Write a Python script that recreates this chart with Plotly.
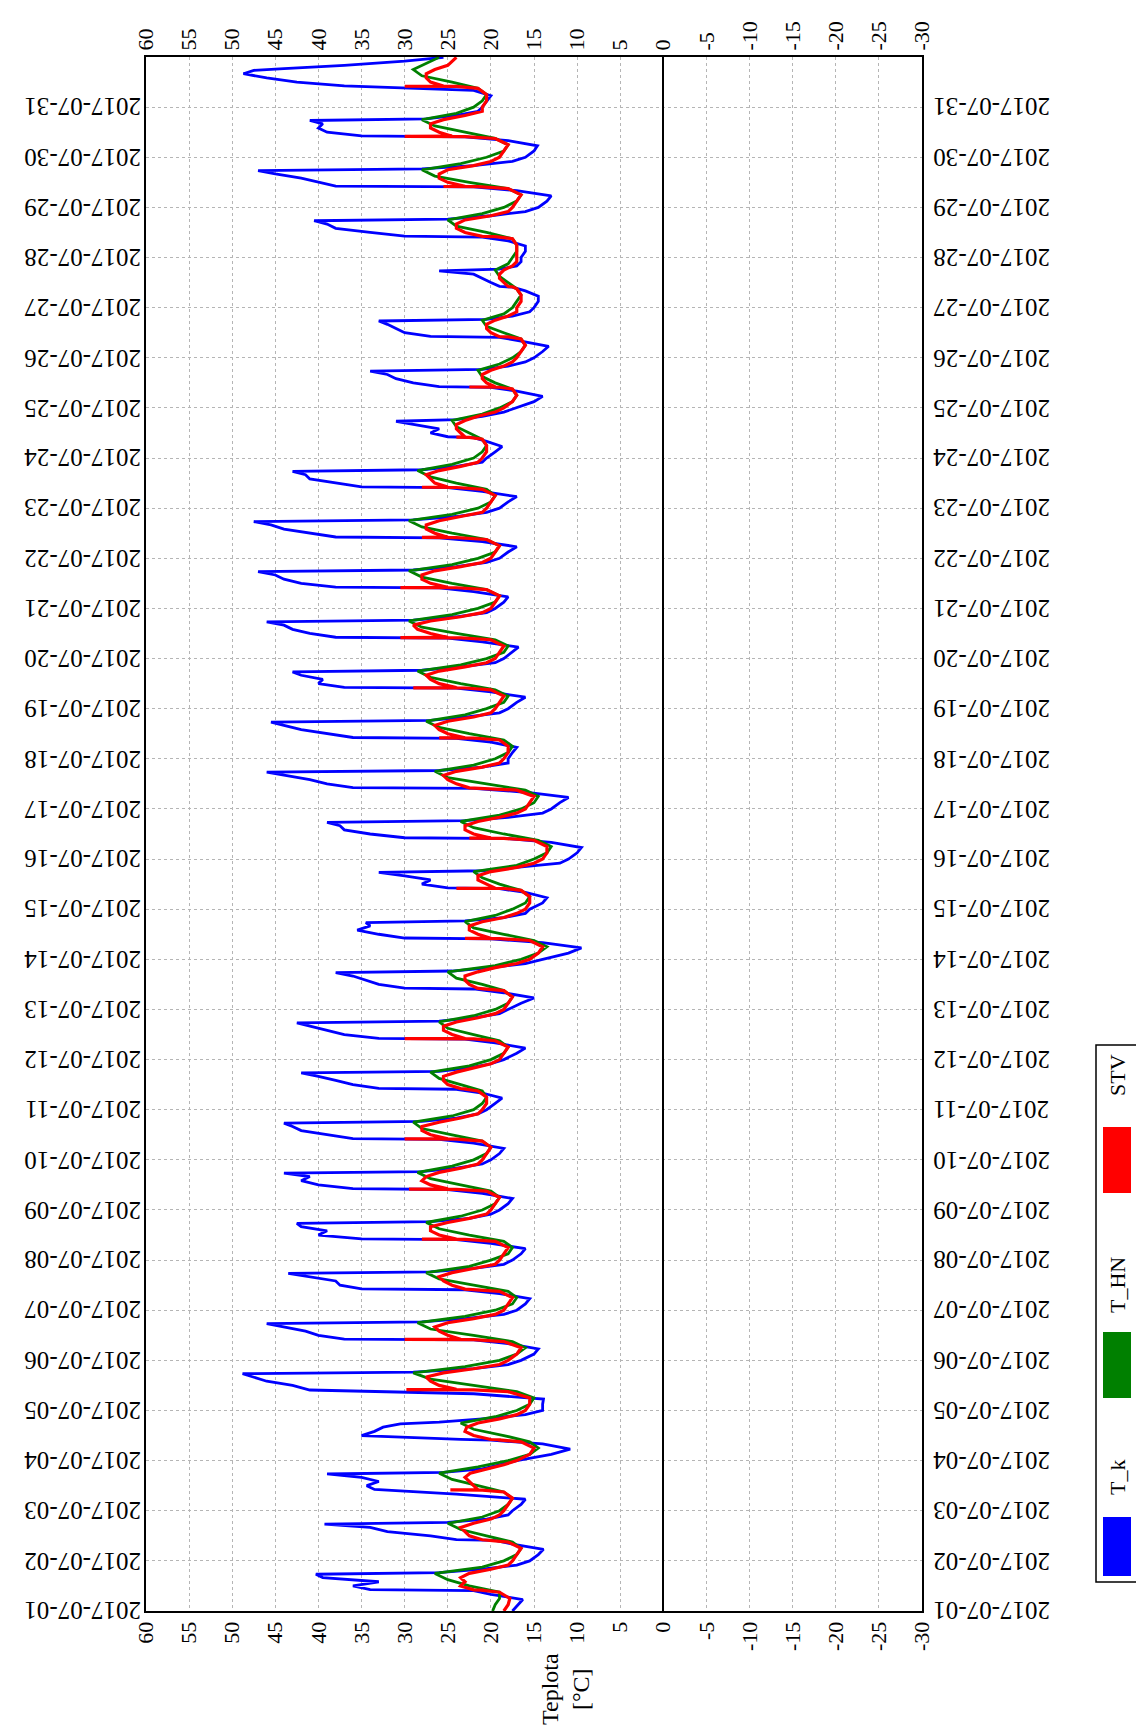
import plotly.graph_objects as go
import pandas as pd

START = pd.Timestamp("2017-07-01")
END = pd.Timestamp("2017-08-01")

# ---- T_k (blue) : values per day at fixed hours ----
TK_HOURS = [0, 3, 5.5, 8, 9.8, 10.2, 12, 14, 16, 17.6, 18.4, 20, 22]
TK_DAILY = [
    [17.5, 16.8, 16.3, 20, 22, 34, 36, 33, 39.5, 40.3, 26, 21, 17],
    [15.5, 14.5, 13.9, 17.5, 19.5, 24, 27, 32, 34, 39.3, 25, 20.5, 18],
    [17.5, 16.5, 16, 24, 32.5, 33.5, 34.4, 33, 35, 39, 25.5, 21, 19],
    [17, 13, 10.8, 14, 20, 23.5, 35, 33.5, 32.5, 30.5, 26, 21, 16],
    [14, 14, 13.9, 22, 41, 41.4, 43, 46, 47.5, 48.8, 29, 22, 18],
    [16.5, 15, 14.5, 18, 22, 37, 40, 41.5, 44, 46, 28, 23, 18.5],
    [17, 16, 15.5, 19, 23, 35, 37.5, 38, 41, 43.5, 27, 22, 18.5],
    [17.5, 16.5, 16, 20, 24, 35, 40, 39, 42, 42.5, 27, 22.5, 20],
    [19, 18, 17.5, 21, 25, 36, 40, 42, 41, 44, 28, 24, 21],
    [20, 19, 18.5, 22, 26, 36, 39, 42, 43, 44, 28, 24, 21.5],
    [20.5, 19.5, 18.7, 21, 24, 33, 36, 38, 40, 42, 26, 22.5, 20],
    [18.5, 17, 16, 19.5, 23, 33, 37, 39, 41, 42.5, 26, 22, 19],
    [18, 16.5, 15, 18.5, 22, 30, 33, 34.5, 36, 38, 24.5, 20, 16],
    [14, 11, 9.5, 14, 20, 30, 33, 35.5, 34, 34.5, 23, 18.5, 16],
    [15.5, 14, 13.5, 16, 19, 25, 28, 27, 30, 33, 21, 17, 12],
    [11, 10, 9.5, 13, 18, 30, 34, 37, 37.5, 39, 23, 18, 14],
    [13, 12, 11, 16, 22, 36, 39, 41, 44, 46, 26, 21, 18],
    [18, 17.5, 17, 20, 24, 36, 39, 42, 44, 45.5, 27, 23, 19],
    [18, 17, 16, 20, 24, 37, 40, 39.5, 42, 43, 28, 23.5, 19.5],
    [18.5, 17.5, 16.8, 21, 25, 38, 41, 43, 44, 46, 29, 24, 20.5],
    [19.5, 18.5, 18, 22, 26, 38, 42, 44, 45, 47, 29, 24, 20.5],
    [19, 18, 17, 21, 26, 38, 41, 44, 45.5, 47.5, 29, 24, 20.5],
    [19, 18, 17, 21, 25, 35, 38, 41, 41.5, 43, 28, 24, 21],
    [20.5, 19.5, 18.7, 20.5, 22, 25, 27, 26, 29, 31, 24, 21, 18.5],
    [17, 15, 14, 17, 20, 26, 29, 31, 32, 34, 21, 18, 16],
    [15, 14, 13.3, 16.5, 19, 27, 30, 31, 32, 33, 20.5, 17.5, 15.5],
    [15, 14.5, 14.5, 16, 17.5, 19, 20, 21, 22, 26, 19, 17, 16.5],
    [16.5, 16, 16, 18, 21, 30, 34, 38, 39, 40.5, 25, 20, 16],
    [14.5, 13.5, 13, 17, 22, 38, 40, 42, 45, 47, 28, 22, 17.5],
    [16, 15, 14.6, 18, 23, 35, 39, 40, 39.5, 41, 27.5, 24, 21.5],
    [21, 20.5, 20, 22, 36, 37, 42.5, 46, 48.7, 47.5, 44, 37, 30],
]
TK_LAST = 25.5

# ---- T_HN (green) ----
HN_HOURS = [0, 3, 6, 9, 12, 15, 18, 21]
HN_DAILY = [
    [19.8, 19.5, 19, 19, 22.5, 25, 26.5, 21],
    [18.5, 17, 16.5, 17.5, 20.5, 23.5, 25, 21],
    [19, 18, 17.5, 18.5, 21.5, 24.5, 26, 21.5],
    [18, 15.5, 14.5, 15.5, 18.5, 22, 23.5, 19.5],
    [17, 15.5, 15, 17, 22, 27, 29, 23],
    [19, 17, 16, 17.5, 22, 27, 28.5, 23],
    [19.5, 17.5, 17, 18, 22, 26, 27.5, 22.5],
    [20, 18, 17.5, 18.5, 22.5, 26, 27.5, 23.5],
    [21, 19.5, 19, 20, 23.5, 27, 28.5, 24.5],
    [22, 20.5, 20, 21, 24.5, 28, 29, 24.5],
    [22, 21, 20.5, 21, 23.5, 26, 27, 22.5],
    [20, 18.5, 18, 19, 22, 25, 26, 22],
    [19.5, 18, 17.5, 18.5, 21, 24, 25, 19.5],
    [16.5, 14.5, 13.5, 15, 18.5, 22, 23, 19.5],
    [17.5, 16, 15.5, 16.5, 19, 21, 22, 17],
    [15, 13.5, 13, 14.5, 18.5, 22, 23.5, 19],
    [16.5, 15, 14.5, 16, 20.5, 25, 26.5, 22],
    [19.5, 18, 17.5, 18.5, 22.5, 26, 27.5, 23],
    [20.5, 18.5, 18, 19.5, 23.5, 27, 28.5, 23.5],
    [20.5, 18.5, 18, 19.5, 24, 28, 29.5, 24.5],
    [21.5, 19.5, 19, 20.5, 24.5, 28, 29.5, 24.5],
    [21.5, 19.5, 19, 20.5, 24.5, 28, 29.5, 24.5],
    [21.5, 20, 19.5, 20.5, 24, 27, 28.5, 24.5],
    [22, 21, 20.5, 21, 22.5, 24, 24.5, 21],
    [19, 17.5, 17, 17.5, 19.5, 21, 21.5, 19],
    [17.5, 16.5, 16, 16.5, 18.5, 20.5, 21, 18.5],
    [17.5, 17, 16.5, 17, 18, 19, 19.5, 18],
    [17.5, 17, 17, 17.5, 20.5, 24, 25, 21],
    [18.5, 17, 16.5, 18, 22.5, 26.5, 28, 23.5],
    [20.5, 18.5, 18, 19.5, 23, 26.5, 28, 24],
    [22, 21, 20.5, 21.5, 24.5, 28, 29, 27.5],
]
HN_LAST = 26

# ---- STV (red) ----
STV_HOURS = [0, 3, 6, 9, 9.9, 10.0, 10.1, 12, 14, 16, 18, 20, 22]
STV_DAILY = [
    [18.5, 18, 17.8, 19, 21, 21, 22, 23.5, 23, 23.5, 22.5, 20, 18],
    [17.5, 17, 16.5, 18, 20, 20, 21, 22.5, 23, 23.5, 22, 20, 19],
    [18.5, 18, 17.5, 18.5, 21, 24.7, 21.5, 22, 22.5, 23, 22.4, 20.5, 18.5],
    [17, 15.5, 15, 16.5, 19, 19, 20, 22, 23, 22.8, 21.5, 19, 17],
    [16, 15.5, 15.5, 18, 22, 29.8, 24, 26, 27, 27.5, 25.5, 22, 19],
    [18, 17, 16.5, 18.5, 22, 30, 23.5, 25, 26, 26.5, 25, 22, 19.5],
    [18.5, 18, 17.5, 19, 22, 22, 23, 24.5, 25.5, 26, 24.5, 22, 19.5],
    [19, 18.5, 18, 19.5, 23, 28, 24, 26, 27, 27, 25, 22.5, 20.5],
    [20, 19.5, 19, 20.5, 24, 29.5, 25, 27, 28, 27.5, 26, 23.5, 21.5],
    [21, 20.5, 20, 21, 24, 30, 25, 27, 28, 28, 26, 23.5, 21.5],
    [21, 20.5, 20.5, 21.5, 23, 23, 23.5, 25, 25.5, 25.5, 24, 22, 20],
    [19, 18.5, 18, 19.5, 22, 30, 23, 24.5, 25.5, 25.5, 24, 21.5, 19.5],
    [18.5, 18, 17.5, 18.5, 20.5, 20.5, 21.5, 22.5, 23, 23, 21.5, 19.5, 17],
    [15.5, 14.5, 14, 15.5, 19, 23, 20, 21.5, 22.5, 22.5, 21, 18.5, 17],
    [16, 15.5, 15.5, 16.5, 18.5, 24, 19.5, 20.5, 21.5, 21.5, 20, 17, 15],
    [14, 13.5, 13.5, 15, 18.5, 22.5, 20, 22, 23, 23, 21.5, 19, 17],
    [16, 15.5, 15, 17, 21, 21, 22.5, 24, 25, 25.5, 24, 21, 19],
    [18.5, 18, 18, 19, 22, 26, 23, 25, 26, 26.5, 25, 22, 20],
    [19.5, 19, 18.5, 20, 23, 29, 24, 26, 27, 27.5, 26, 23, 20.5],
    [19.5, 19, 18.5, 20, 23.5, 30.5, 25, 27, 28.5, 29, 27, 23.5, 21],
    [20, 19.5, 19, 20.5, 24, 30.5, 25, 27, 28, 28, 26.5, 23.5, 21],
    [20, 19.5, 19, 20.5, 24, 28, 25, 26.5, 27.5, 27.5, 26, 23.5, 21],
    [20.5, 20, 19.5, 21, 24, 28, 25, 26.5, 27, 27.5, 26, 23.5, 21.5],
    [21, 20.5, 20.5, 21, 22.5, 24, 23, 23.5, 24, 24, 23, 21.5, 19.5],
    [18.5, 17.5, 17, 17.5, 19, 22.5, 19.5, 20.5, 21, 21, 20, 18.5, 17.5],
    [17, 16.5, 16, 16.5, 18, 18, 19, 20, 20.5, 20.5, 19.5, 18, 17],
    [17, 16.5, 16.5, 17, 17.5, 17.5, 18, 18.5, 19, 19, 18.5, 17.5, 17],
    [17, 17, 17, 17.5, 19.5, 19.5, 21, 23, 24, 24, 23, 20, 18],
    [17.5, 17, 16.5, 18, 21.5, 25.5, 23, 25, 26, 26, 25, 22, 20],
    [19, 18.5, 18, 19.5, 23, 30, 24.5, 26, 27, 27, 25.5, 23, 21],
    [21, 20.5, 20.5, 21.5, 24, 30, 25.5, 27, 27.5, 27.5, 26.5, 25, 24.5],
]
STV_LAST = 24

LAST_TIME = pd.Timestamp("2017-07-31 23:50")

X_TICKS = list(range(60, -35, -5))
DATE_TICKS = list(pd.date_range("2017-07-01", "2017-07-31", freq="D"))
SERIES = [("T_k", "#0000ff", 2.8), ("T_HN", "#008000", 2.8), ("STV", "#ff0000", 3.2)]


def build(hours, daily, last):
    t, v = [], []
    for d, vals in enumerate(daily):
        for h, val in zip(hours, vals):
            t.append(START + pd.Timedelta(days=d) + pd.Timedelta(hours=h))
            v.append(val)
    t.append(LAST_TIME)
    v.append(last)
    return t, v


data = {
    "T_k": build(TK_HOURS, TK_DAILY, TK_LAST),
    "T_HN": build(HN_HOURS, HN_DAILY, HN_LAST),
    "STV": build(STV_HOURS, STV_DAILY, STV_LAST),
}

# ---- layout geometry (pixels) ----
W, H = 1136, 1733
PL, PR, PT, PB = 146, 922, 57, 1611


def px(xp):
    return (xp - PL) / (PR - PL)


def py(yp):
    return (PB - yp) / (PB - PT)


FONT = "Liberation Serif"

fig = go.Figure()
for name, color, lw in SERIES:
    t, v = data[name]
    fig.add_trace(go.Scatter(x=v, y=t, mode="lines", name=name,
                             line=dict(color=color, width=lw),
                             showlegend=False))
# invisible trace for the mirrored top axis
fig.add_trace(go.Scatter(x=[0], y=[START + pd.Timedelta(days=15)], xaxis="x2",
                         mode="markers", marker=dict(opacity=0), showlegend=False,
                         hoverinfo="skip"))

xcommon = dict(range=[60, -30], tickvals=X_TICKS, ticktext=[str(v) for v in X_TICKS],
               tickangle=-90, tickfont=dict(family=FONT, size=22, color="black"),
               ticks="", showline=True, linecolor="black", linewidth=2)

fig.update_layout(
    width=W, height=H,
    margin=dict(l=PL, r=W - PR, t=PT, b=H - PB),
    paper_bgcolor="white", plot_bgcolor="white",
    xaxis=dict(**xcommon, side="bottom", showgrid=True, gridcolor="#b5b5b5",
               griddash="dot", gridwidth=1, zeroline=True, zerolinecolor="black",
               zerolinewidth=1.6, mirror=True),
    xaxis2=dict(**xcommon, side="top", overlaying="x", matches="x", showgrid=False,
                zeroline=False),
    yaxis=dict(type="date", range=[START, END], tickvals=DATE_TICKS,
               showticklabels=False, ticks="", showline=True, linecolor="black",
               linewidth=2, mirror=True, showgrid=True, gridcolor="#b5b5b5",
               griddash="dot", gridwidth=1, zeroline=False),
    showlegend=False,
)

# date labels (upside down) on both sides
for d in DATE_TICKS:
    lab = d.strftime("%Y-%m-%d")
    for xa, anchor, shift in ((0, "right", -3), (1, "left", 9)):
        fig.add_annotation(x=xa, y=d, xref="paper", yref="y", text=lab,
                           textangle=180, showarrow=False, xanchor=anchor,
                           yanchor="middle", xshift=shift,
                           font=dict(family=FONT, size=25, color="black"))

# axis title
fig.add_annotation(x=px(566), y=py(1689), xref="paper", yref="paper",
                   text="Teplota<br>[°C]", textangle=-90, showarrow=False,
                   font=dict(family=FONT, size=24, color="black"),
                   xanchor="center", yanchor="middle")

# legend drawn rotated
fig.add_shape(type="rect", xref="paper", yref="paper",
              x0=px(1096), x1=px(1160), y0=py(1582), y1=py(1045),
              line=dict(color="black", width=1.5), fillcolor="white", layer="above")
legend_items = [("STV", "#ff0000", 1075, 1127, 1193),
                ("T_HN", "#008000", 1285, 1332, 1398),
                ("T_k", "#0000ff", 1478, 1517, 1576)]
for name, color, ty, s0, s1 in legend_items:
    fig.add_shape(type="rect", xref="paper", yref="paper",
                  x0=px(1103), x1=px(1131), y0=py(s1), y1=py(s0),
                  line=dict(width=0), fillcolor=color, layer="above")
    fig.add_annotation(x=px(1117), y=py(ty), xref="paper", yref="paper",
                       text=name, textangle=-90, showarrow=False,
                       font=dict(family=FONT, size=22, color="black"),
                       xanchor="center", yanchor="middle")

fig.write_html("out.html")
